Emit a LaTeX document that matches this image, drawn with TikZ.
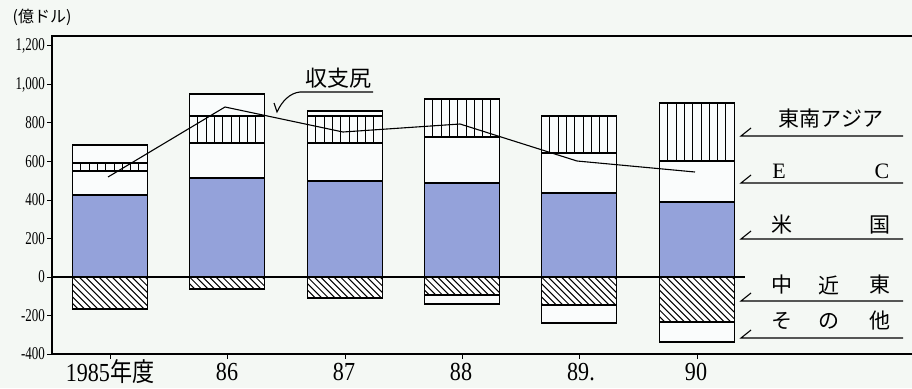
\documentclass[tikz,border=0pt]{standalone}
\usepackage{fontspec}
\setmainfont{Liberation Serif}
\newfontfamily\jp{Noto Sans CJK JP}
\definecolor{bgc}{RGB}{244,248,244}
\definecolor{usblue}{RGB}{148,162,218}
\definecolor{ecwhite}{RGB}{250,252,252}
\tikzset{
  barbox/.style={draw=black, line width=1.2pt},
  hatchline/.style={line width=1pt},
  axisline/.style={line width=1.8pt},
  balline/.style={line width=1.1pt},
  ticklab/.style={anchor=east, inner sep=0pt, font=\fontsize{18}{18}\selectfont},
  yearlab/.style={inner sep=0pt, font=\fontsize{26}{26}\selectfont},
  legtext/.style={inner sep=0pt, font=\jp\fontsize{21}{21}\selectfont},
  legline/.style={line width=1.1pt},
}
\newcommand\vhatchbox[4]{%
  \fill[ecwhite] (#1,#2) rectangle (#3,#4);
  \begin{scope}\clip (#1,#2) rectangle (#3,#4);
    \foreach \k in {1,...,9}{\draw[hatchline] ({#1+\k*8.3},#2) -- ({#1+\k*8.3},#4);}
  \end{scope}
  \draw[barbox] (#1,#2) rectangle (#3,#4);}
\newcommand\dhatchbox[4]{%
  \fill[white] (#1,#2) rectangle (#3,#4);
  \begin{scope}\clip (#1,#2) rectangle (#3,#4);
    \foreach \k in {-12,...,12}{\draw[hatchline] ({#1+\k*6.6},#2) -- ++(60,60);}
  \end{scope}
  \draw[barbox] (#1,#2) rectangle (#3,#4);}
\newcommand\plainbox[5]{\draw[barbox, fill=#5] (#1,#2) rectangle (#3,#4);}
\begin{document}
\begin{tikzpicture}[x=1pt,y=-1pt]
\useasboundingbox (0,0) rectangle (912,388);
\fill[bgc] (0,0) rectangle (912,388);

% axis label
\node[inner sep=0pt, font=\jp\fontsize{16}{16}\selectfont] (unit) at (42,17) {(億ドル)};

% bars: 1985
\plainbox{72.5}{195}{147.5}{277}{usblue}
\plainbox{72.5}{171}{147.5}{195}{ecwhite}
\vhatchbox{72.5}{163}{147.5}{171}
\plainbox{72.5}{145}{147.5}{163}{ecwhite}
\dhatchbox{72.5}{277}{147.5}{309}
% 1986
\plainbox{189.5}{178}{264.5}{277}{usblue}
\plainbox{189.5}{143}{264.5}{178}{ecwhite}
\vhatchbox{189.5}{116}{264.5}{143}
\plainbox{189.5}{94}{264.5}{116}{ecwhite}
\dhatchbox{189.5}{277}{264.5}{289}
% 1987
\plainbox{307.5}{181}{382.5}{277}{usblue}
\plainbox{307.5}{143}{382.5}{181}{ecwhite}
\vhatchbox{307.5}{116}{382.5}{143}
\plainbox{307.5}{111}{382.5}{116}{ecwhite}
\dhatchbox{307.5}{277}{382.5}{298}
% 1988
\plainbox{424.5}{183}{499.5}{277}{usblue}
\plainbox{424.5}{137}{499.5}{183}{ecwhite}
\vhatchbox{424.5}{99}{499.5}{137}
\dhatchbox{424.5}{277}{499.5}{295}
\plainbox{424.5}{295}{499.5}{304}{ecwhite}
% 1989
\plainbox{541.5}{193}{616.5}{277}{usblue}
\plainbox{541.5}{153}{616.5}{193}{ecwhite}
\vhatchbox{541.5}{116}{616.5}{153}
\dhatchbox{541.5}{277}{616.5}{305}
\plainbox{541.5}{305}{616.5}{323}{ecwhite}
% 1990
\plainbox{659.5}{202}{734.5}{277}{usblue}
\plainbox{659.5}{161}{734.5}{202}{ecwhite}
\vhatchbox{659.5}{103}{734.5}{161}
\dhatchbox{659.5}{277}{734.5}{322}
\plainbox{659.5}{322}{734.5}{342}{ecwhite}

% frame and axes
\coordinate (tl) at (52,36);
\coordinate (tr) at (912,36);
\coordinate (bl) at (52,354);
\coordinate (br) at (912,354);
\coordinate (z0) at (52,277);
\coordinate (z1) at (745,277);
\draw[axisline] (tr) -- (tl) -- (bl) -- (br);
\draw[balline] (z0) -- (z1);

% y ticks
\foreach \v/\t in {1200/{1,200},1000/{1,000},800/800,600/600,400/400,200/200,0/0,-200/-200,-400/-400}{
  \pgfmathsetmacro\yy{277-0.1925*\v}
  \draw[line width=1pt] (47,\yy) -- (52,\yy);
  \node[ticklab] at (45,\yy) {\scalebox{0.72}[1]{\t}};
}

% x ticks and labels
\foreach \xx in {110,227,345,462,579,697}{\draw[line width=1pt] (\xx,354) -- (\xx,359);}
\node[yearlab] (y85) at (110,372) {\scalebox{0.85}[1]{1985\jp 年度}};
\node[yearlab] (y86) at (227,372) {\scalebox{0.85}[1]{86}};
\node[yearlab] (y87) at (344,372) {\scalebox{0.85}[1]{87}};
\node[yearlab] (y88) at (461,372) {\scalebox{0.85}[1]{88}};
\node[yearlab] (y89) at (581,372) {\scalebox{0.85}[1]{89.}};
\node[yearlab] (y90) at (696,372) {\scalebox{0.85}[1]{90}};

% balance line
\coordinate (p85) at (108,177);
\coordinate (p86) at (225,107);
\coordinate (p87) at (343,132);
\coordinate (p88) at (460,124);
\coordinate (p89) at (577,161);
\coordinate (p90) at (695,172);
\draw[balline] (p85) -- (p86) -- (p87) -- (p88) -- (p89) -- (p90);

% balance label
\node[legtext, font=\jp\fontsize{22}{22}\selectfont] (bal) at (338,78) {収支尻};
\coordinate (bu1) at (300,92);
\coordinate (bu2) at (373,92);
\coordinate (bk1) at (274,103);
\coordinate (bk2) at (277,112);
\draw[legline] (bu2) -- (bu1) .. controls (290,93) and (282,101) .. (bk2) -- (bk1);

% legend
\foreach \yy in {136,183,239,301,338}{
  \draw[legline] (751,\yy-8) -- (741,\yy) -- (903,\yy);
}
\node[legtext] (lsea) at (831,119) {東南アジア};
\node[legtext, font=\fontsize{22}{22}\selectfont] (le) at (779,171) {E};
\node[legtext, font=\fontsize{22}{22}\selectfont] (lc) at (882,171) {C};
\node[legtext] (lu1) at (782,225) {米};
\node[legtext] (lu2) at (880,225) {国};
\node[legtext] (lm1) at (782,285) {中};
\node[legtext] (lm2) at (829,285) {近};
\node[legtext] (lm3) at (880,285) {東};
\node[legtext] (lo1) at (782,321) {そ};
\node[legtext] (lo2) at (829,321) {の};
\node[legtext] (lo3) at (880,321) {他};
\end{tikzpicture}
\end{document}
